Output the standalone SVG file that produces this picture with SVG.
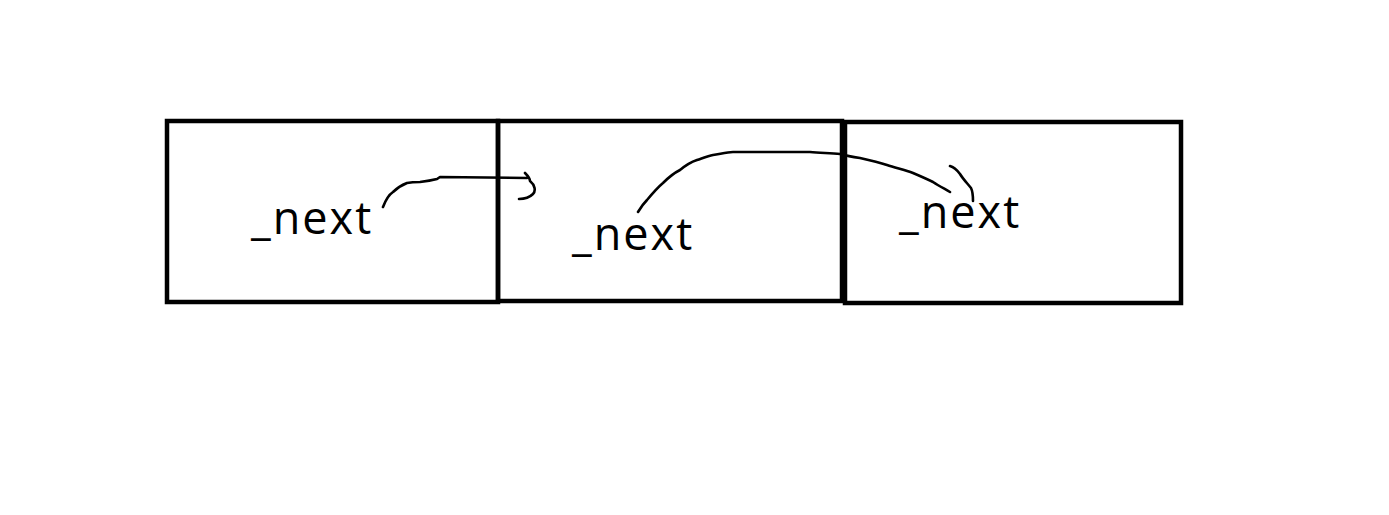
<svg xmlns="http://www.w3.org/2000/svg" width="1389" height="515" viewBox="0 0 1389 515">
<style>
.box{fill:none;stroke:#000;stroke-width:4.5}
.lbl{font-family:"Open Sans","Noto Sans",sans-serif;font-size:45px;letter-spacing:2px;fill:#000}
.ink{fill:none;stroke:#000;stroke-width:2.6;stroke-linecap:round;stroke-linejoin:round}
</style>
<rect width="1389" height="515" fill="#fff"/>
<g id="node1">
<rect class="box" x="167" y="121" width="331" height="181"/>
<text class="lbl" x="251" y="234">_next</text>
</g>
<g id="node2">
<rect class="box" x="498" y="121" width="344" height="180"/>
<text class="lbl" x="572" y="250">_next</text>
</g>
<g id="node3">
<rect class="box" x="845" y="122" width="336" height="181"/>
<text class="lbl" x="899" y="228">_next</text>
</g>
<g id="connectors">
<path class="ink" d="M383,207 C386,199 390,194 393,192 C398,187 402,185 407,183 C412,182 416,182 420,182 C428,181 433,180 437,179 L440,177 L527,178 M525,173 C528,176 530,178 530,181 C535,185 536,191 533,194 C530,197 525,199 519,199"/>
<path class="ink" d="M638,212 C641,207 644,203 647,200 C652,194 657,188 663,183 C668,178 674,173 680,170 C686,165 691,162 697,160 C703,158 708,156 713,155 C720,154 727,152 733,152 L810,152 C820,153 830,153 840,154 C847,156 853,157 860,158 C869,160 878,162 887,165 C896,168 905,170 913,173 C920,176 927,179 933,182 C939,186 945,189 950,192 M950,166 C954,167 957,170 960,174 C963,179 967,183 971,188 C973,192 973,196 973,201"/>
</g>
</svg>
